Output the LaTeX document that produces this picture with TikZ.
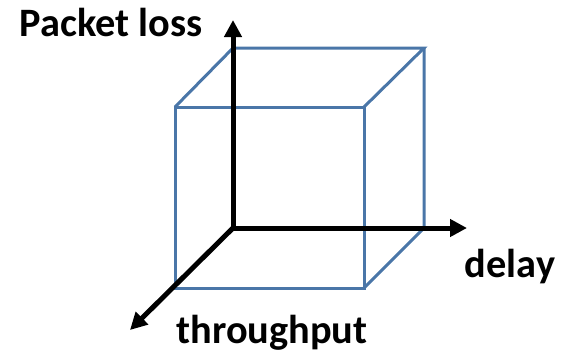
\documentclass[tikz,border=0pt]{standalone}
\usepackage{fontspec}
\setmainfont{Carlito}
\usetikzlibrary{arrows.meta}
\definecolor{cubeblue}{HTML}{4A76A8}
\tikzset{
  cubeedge/.style={draw=cubeblue, line width=3bp, line join=miter},
  axis/.style={draw=black, line width=5bp, -{Triangle[length=17bp,width=17bp]}},
  lbl/.style={font=\bfseries\fontsize{40.5}{46}\selectfont, inner sep=0pt}
}
\begin{document}
\begin{tikzpicture}[x=1bp,y=-1bp]
\useasboundingbox (0,0) rectangle (562,358);
% cube corners
\coordinate (ftl) at (175,107);
\coordinate (ftr) at (364,107);
\coordinate (fbl) at (175,288);
\coordinate (fbr) at (364,288);
\coordinate (btl) at (233,48);
\coordinate (btr) at (424,48);
\coordinate (bbr) at (424,228);
\coordinate (o) at (233,228);
\draw[cubeedge] (ftl) rectangle (fbr);
\draw[cubeedge] (ftl) -- (btl) -- (btr) -- (ftr);
\draw[cubeedge] (btr) -- (bbr) -- (fbr);
% axes
\coordinate (ytip) at (233,20);
\coordinate (xtip) at (467,228);
\coordinate (ztip) at (130,330);
\draw[axis] (o) -- (ytip);
\draw[axis] (o) -- (xtip);
\draw[axis, shorten <=-1.5bp] (o) -- (ztip);
% labels
\node[lbl] (pl) at (111,22) {Packet loss};
\node[lbl] (dl) at (510,267) {delay};
\node[lbl] (tp) at (272,333) {throughput};
\end{tikzpicture}
\end{document}
